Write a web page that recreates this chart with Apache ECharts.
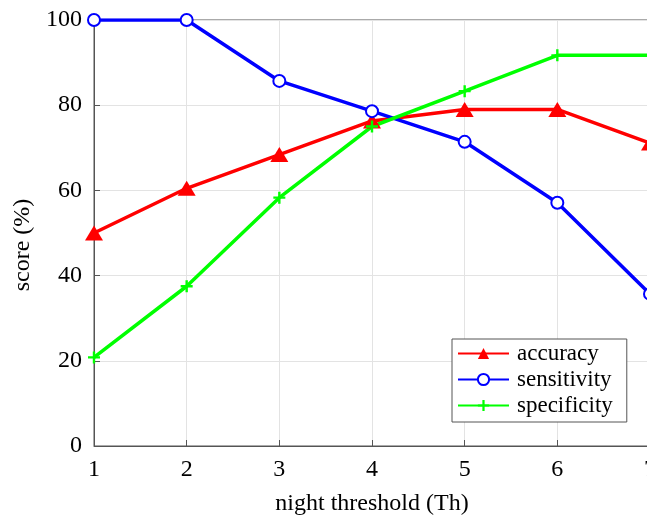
<!DOCTYPE html>
<html>
<head>
<meta charset="utf-8">
<script src="https://cdn.jsdelivr.net/npm/echarts@6/dist/echarts.min.js"></script>
<style>
html,body{margin:0;padding:0;overflow:hidden;background:#fff;}
#c{width:660px;height:516px;}
</style>
</head>
<body>
<div id="c"></div>
<script>
var thresholds = [1, 2, 3, 4, 5, 6, 7];
var accuracy = [50, 60.5, 68.4, 76.3, 79, 79, 71.1];
var sensitivity = [100, 100, 85.7, 78.6, 71.4, 57.1, 35.7];
var specificity = [20.8, 37.5, 58.3, 75, 83.3, 91.7, 91.7];
var yTicks = [0, 20, 40, 60, 80, 100];

function pairs(xs, ys) { return xs.map(function (x, i) { return [x, ys[i]]; }); }

var font = 'Liberation Serif';
var plus = 'path://M4,0 L6,0 L6,4 L10,4 L10,6 L6,6 L6,10 L4,10 L4,6 L0,6 L0,4 L4,4 Z';

var chart = echarts.init(document.getElementById('c'));
chart.setOption({
  animation: false,
  backgroundColor: '#fff',
  grid: { left: 94, top: 20, width: 556, height: 426, containLabel: false, outerBoundsMode: 'none',
    show: true, borderColor: '#555', borderWidth: 1 },
  xAxis: {
    type: 'value', min: 1, max: 7, interval: 1,
    name: 'night threshold (Th)', nameLocation: 'middle', nameGap: 46,
    nameTextStyle: { fontFamily: font, fontSize: 24, color: '#000' },
    axisLine: { show: true, lineStyle: { color: '#555', width: 1 } },
    axisTick: { show: true, inside: true, length: 6, lineStyle: { color: '#555' } },
    axisLabel: { fontFamily: font, fontSize: 24, color: '#000', margin: 12 },
    splitLine: { show: true, lineStyle: { color: '#e3e3e3', width: 1 } }
  },
  yAxis: {
    type: 'value', min: 0, max: 100, interval: 20,
    name: 'score (%)', nameLocation: 'middle', nameGap: 58, nameRotate: 90,
    nameTextStyle: { fontFamily: font, fontSize: 24, color: '#000', padding: [0, 24, 0, 0] },
    axisLine: { show: true, lineStyle: { color: '#555', width: 1 } },
    axisTick: { show: true, inside: true, length: 6, lineStyle: { color: '#555' } },
    axisLabel: { fontFamily: font, fontSize: 24, color: '#000', margin: 12,
      formatter: function (v) { return yTicks.indexOf(v) >= 0 ? String(v) : ''; } },
    splitLine: { show: true, lineStyle: { color: '#e3e3e3', width: 1 } }
  },
  legend: {
    orient: 'vertical', left: 452, top: 339,
    padding: [3, 14, 5, 5], itemGap: 3, itemWidth: 51, itemHeight: 14,
    backgroundColor: '#fff', borderColor: '#555', borderWidth: 1, borderRadius: 0,
    textStyle: { fontFamily: font, fontSize: 23, color: '#000', padding: [0, 0, 0, 3] },
    data: ['accuracy', 'sensitivity', 'specificity']
  },
  series: [
    { name: 'accuracy', type: 'line', data: pairs(thresholds, accuracy),
      symbol: 'triangle', symbolSize: [18, 15],
      lineStyle: { color: '#ff0000', width: 3.5 }, itemStyle: { color: '#ff0000' } },
    { name: 'sensitivity', type: 'line', data: pairs(thresholds, sensitivity),
      symbol: 'emptyCircle', symbolSize: 12,
      lineStyle: { color: '#0000ff', width: 3.5 }, itemStyle: { color: '#0000ff', borderWidth: 3 } },
    { name: 'specificity', type: 'line', data: pairs(thresholds, specificity),
      symbol: plus, symbolSize: 12,
      lineStyle: { color: '#00ff00', width: 3.5 }, itemStyle: { color: '#00ff00' } }
  ]
});
</script>
</body>
</html>
